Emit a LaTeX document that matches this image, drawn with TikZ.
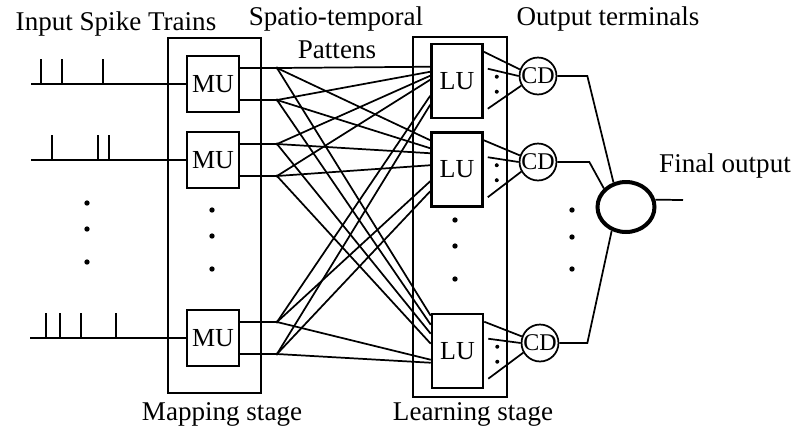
\documentclass[tikz,border=0pt]{standalone}
\usepackage{fontspec}
\setmainfont{Liberation Serif}
\usetikzlibrary{calc,shapes.geometric}
\begin{document}
\begin{tikzpicture}[x=0.75pt,y=-0.75pt,
  lbl/.style={font=\fontsize{20.3}{24}\selectfont, inner sep=0pt, anchor=base},
  unitbox/.style={draw, line width=1.9pt, inner sep=0pt, font=\fontsize{19.5}{22}\selectfont},
  stagebox/.style={line width=1.9pt},
  wire/.style={line width=1.3pt},
  train/.style={line width=1.7pt},
  cdnode/.style={draw, circle, line width=1.3pt, minimum size=25.5pt, inner sep=0pt, font=\fontsize{18}{19}\selectfont},
]
\useasboundingbox (0,0) rectangle (797,430);

% titles
\node[lbl] (tin)  at (116,30)  {Input Spike Trains};
\node[lbl] (tsp)  at (336,25)  {Spatio-temporal};
\node[lbl] (tpat) at (337,58)  {Pattens};
\node[lbl] (tout) at (608,25)  {Output terminals};
\node[lbl] (tfin) at (725,172) {Final output};
\node[lbl] (tmap) at (222,420) {Mapping stage};
\node[lbl] (tlrn) at (473,420) {Learning stage};

% stage frames
\draw[stagebox] (168,38) rectangle (261,393);
\draw[stagebox] (413,37) rectangle (507,397);

% mapping units
\node[unitbox, minimum width=39pt, minimum height=42pt] (MU1) at (213,84)  {MU};
\node[unitbox, minimum width=39pt, minimum height=42pt] (MU2) at (213,160) {MU};
\node[unitbox, minimum width=39pt, minimum height=42pt] (MU3) at (213,338) {MU};

% learning units
\node[unitbox, minimum width=38.25pt, minimum height=55.5pt] (LU1) at (457,81)    {LU};
\node[unitbox, minimum width=38.25pt, minimum height=55.5pt] (LU2) at (457,169.5) {LU};
\node[unitbox, minimum width=38.25pt, minimum height=55.5pt] (LU3) at (457.5,351) {LU};

% output terminals and final output
\node[cdnode] (CD1) at (538,76)  {CD};
\node[cdnode] (CD2) at (538,162) {CD};
\node[cdnode] (CD3) at (540,343) {CD};
\node[draw, ellipse, line width=3pt, minimum width=42.75pt, minimum height=37.5pt, inner sep=0pt] (F) at (626,207) {};

% input spike trains
\coordinate (in1) at (31,84);
\coordinate (in2) at (31,160);
\coordinate (in3) at (30,338);
\draw[train] (in1) -- (MU1.west);
\draw[train] (in2) -- (MU2.west);
\draw[train] (in3) -- (MU3.west);
\foreach \x in {41,62,103} \draw[train] (\x,84) -- (\x,59);
\foreach \x in {52,98,109} \draw[train] (\x,160) -- (\x,135);
\foreach \x in {46,60,81,116} \draw[train] (\x,338) -- (\x,313);

% vertical ellipsis marks
\foreach \y in {203,229,262} \fill (87,\y) circle (2pt);
\foreach \y in {210,236,269} \fill (212,\y) circle (2pt);
\foreach \y in {220,246,279} \fill (455,\y) circle (2pt);
\foreach \y in {210,237,269} \fill (572,\y) circle (2pt);

% spatio-temporal pattern outputs of the mapping units
\coordinate (s1) at (277,68);
\coordinate (s2) at (277,100);
\coordinate (s3) at (277,144);
\coordinate (s4) at (277,176);
\coordinate (s5) at (277,322);
\coordinate (s6) at (277,354);
\draw[wire] (MU1.east |- s1) -- (s1);
\draw[wire] (MU1.east |- s2) -- (s2);
\draw[wire] (MU2.east |- s3) -- (s3);
\draw[wire] (MU2.east |- s4) -- (s4);
\draw[wire] (MU3.east |- s5) -- (s5);
\draw[wire] (MU3.east |- s6) -- (s6);
\foreach \s in {1,...,6} \fill (s\s) circle (1.2pt);

% full connection from every pattern line to every learning unit
\foreach \s/\u/\o in {1/1/24, 2/1/29, 3/1/33, 4/1/37, 5/1/53, 6/1/62,
                      1/2/9,  2/2/17, 3/2/22, 4/2/34, 5/2/50, 6/2/60,
                      1/3/3,  2/3/12, 3/3/21, 4/3/31, 5/3/47, 6/3/50}
  \draw[wire] (s\s) -- ($(LU\u.north west)+(0,\o)$);

% learning unit outputs into the output terminals
\foreach \u in {1,2,3} {
  \draw[wire] ($(LU\u.north east)+(0,9)$)  -- (CD\u.160);
  \draw[wire] ($(LU\u.north east)+(4,26)$) -- (CD\u.180);
  \draw[wire] ($(LU\u.north east)+(4,66)$) -- (CD\u.210);
  \fill ($(LU\u.north east)+(13,34)$) circle (1.5pt);
  \fill ($(LU\u.north east)+(13,49)$) circle (1.5pt);
}

% output terminals into the final output
\draw[wire] (CD1.east) -- ++(30,0) -- (F.117);
\draw[wire] (CD2.east) -- ++(32,0) -- (F.140);
\draw[wire] (CD3.east) -- ++(28,0) -- (F.239);
\coordinate (fo) at (683,200);
\draw[wire] (F.14) -- (fo);
\end{tikzpicture}
\end{document}
